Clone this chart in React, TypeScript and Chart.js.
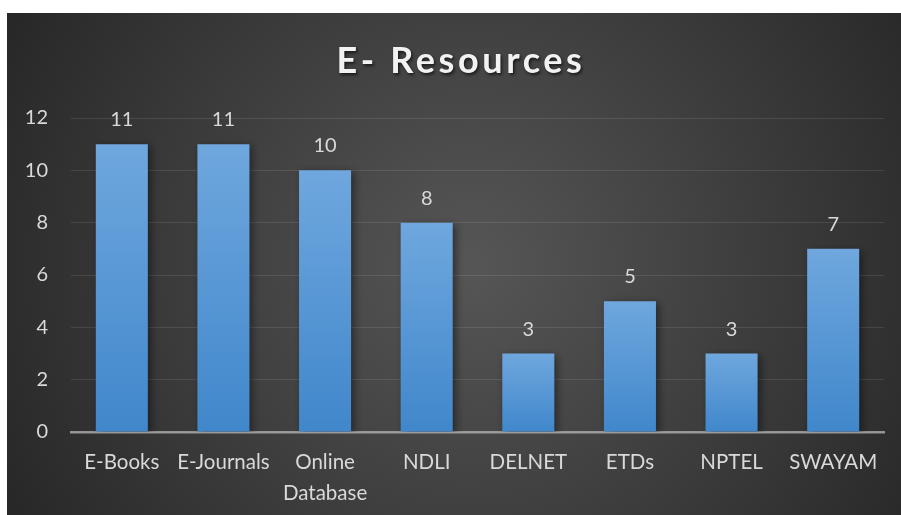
import React, { useEffect, useRef } from "react";
import { Chart, registerables } from "chart.js";

Chart.register(...registerables);

const titleText = "E- Resources";
const categories: (string | string[])[] = [
  "E-Books",
  "E-Journals",
  ["Online", "Database"],
  "NDLI",
  "DELNET",
  "ETDs",
  "NPTEL",
  "SWAYAM",
];
const values = [11, 11, 10, 8, 3, 5, 3, 7];
const yMin = 0;
const yMax = 12;
const yStep = 2;

const FONT = "Lato, 'Open Sans', sans-serif";
const TEXT = "#d9d9d9";

const bgPlugin = {
  id: "bgPlugin",
  beforeDraw(chart: any) {
    const { ctx, width, height } = chart;
    ctx.save();
    const g = ctx.createRadialGradient(width * 0.52, height * 0.5, 0, width * 0.52, height * 0.5, Math.hypot(width, height) * 0.55);
    g.addColorStop(0, "#565656");
    g.addColorStop(1, "#242424");
    ctx.fillStyle = g;
    ctx.fillRect(0, 0, width, height);
    ctx.restore();
  },
};

const titlePlugin = {
  id: "titlePlugin",
  afterDraw(chart: any) {
    const { ctx } = chart;
    ctx.save();
    ctx.font = `bold 36px ${FONT}`;
    (ctx as any).letterSpacing = "3.6px";
    ctx.textAlign = "center";
    ctx.textBaseline = "alphabetic";
    ctx.shadowColor = "rgba(0,0,0,0.6)";
    ctx.shadowBlur = 3;
    ctx.shadowOffsetX = 1.5;
    ctx.shadowOffsetY = 2;
    ctx.fillStyle = "#f2f2f2";
    ctx.fillText(titleText, 454, 60);
    ctx.restore();
  },
};

const shadowPlugin = {
  id: "shadowPlugin",
  beforeDatasetsDraw(chart: any) {
    const { ctx } = chart;
    ctx.save();
    ctx.shadowColor = "rgba(0,0,0,0.45)";
    ctx.shadowBlur = 8;
    ctx.shadowOffsetX = 3;
    ctx.shadowOffsetY = 2;
  },
  afterDatasetsDraw(chart: any) {
    chart.ctx.restore();
  },
};

const labelPlugin = {
  id: "labelPlugin",
  afterDatasetsDraw(chart: any) {
    const { ctx } = chart;
    const meta = chart.getDatasetMeta(0);
    ctx.save();
    ctx.font = `20px ${FONT}`;
    ctx.fillStyle = TEXT;
    ctx.textAlign = "center";
    ctx.textBaseline = "alphabetic";
    meta.data.forEach((bar: any, i: number) => {
      ctx.fillText(String(values[i]), bar.x, bar.y - 18);
    });
    ctx.restore();
  },
};

export default function App() {
  const ref = useRef<HTMLCanvasElement | null>(null);
  useEffect(() => {
    if (!ref.current) return;
    const chart = new Chart(ref.current, {
      type: "bar",
      data: {
        labels: categories,
        datasets: [
          {
            data: values,
            backgroundColor: (c: any) => {
              const chart = c.chart;
              const { chartArea, scales } = chart;
              if (!chartArea || !scales.y) return "#5b9bd5";
              const v = values[c.dataIndex] ?? 0;
              const top = scales.y.getPixelForValue(v);
              const bottom = scales.y.getPixelForValue(0);
              if (!isFinite(top) || !isFinite(bottom) || top === bottom) return "#5b9bd5";
              const g = chart.ctx.createLinearGradient(0, top, 0, bottom);
              g.addColorStop(0, "#6fa7de");
              g.addColorStop(1, "#4087cb");
              return g;
            },
            borderWidth: 0,
            categoryPercentage: 1,
            barPercentage: 0.512,
          },
        ],
      },
      options: {
        responsive: false,
        animation: false,
        layout: { padding: { top: 105, right: 17, bottom: 0, left: 0 } },
        plugins: {
          legend: { display: false },
          title: { display: false },
          tooltip: { enabled: false },
        },
        scales: {
          x: {
            z: 1,
            grid: { display: false, drawTicks: false },
            border: { display: true, color: "rgba(180,180,180,0.75)", width: 2.5 },
            ticks: {
              color: TEXT,
              font: { family: FONT, size: 20.5, lineHeight: 1.5 },
              padding: 15,
              maxRotation: 0,
              autoSkip: false,
            },
            afterFit(scale: any) {
              scale.height = 83;
            },
          },
          y: {
            min: yMin,
            max: yMax,
            grid: { color: "rgba(255,255,255,0.1)", lineWidth: 1, drawTicks: false },
            border: { display: false },
            ticks: {
              stepSize: yStep,
              color: TEXT,
              font: { family: FONT, size: 20 },
              padding: 23,
            },
            afterFit(scale: any) {
              scale.width = 64;
            },
          },
        },
      },
      plugins: [bgPlugin, shadowPlugin, labelPlugin, titlePlugin],
    });
    return () => chart.destroy();
  }, []);
  return (
    <div style={{ position: "absolute", left: 0, top: 0, width: 901, height: 515, background: "#fff" }}>
      <canvas ref={ref} width={894} height={502} style={{ position: "absolute", left: 7, top: 13, width: 894, height: 502 }} />
    </div>
  );
}
